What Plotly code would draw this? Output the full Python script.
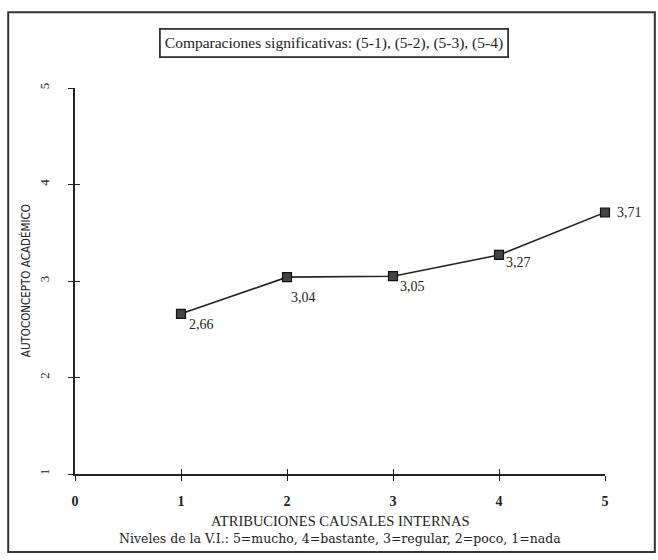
import plotly.graph_objects as go

niveles = [1, 2, 3, 4, 5]
medias = [2.66, 3.04, 3.05, 3.27, 3.71]
etiquetas = ["2,66", "3,04", "3,05", "3,27", "3,71"]
x_ticks = [0, 1, 2, 3, 4, 5]
y_ticks = [1, 2, 3, 4, 5]

# label offsets (style only)
lab_dx = [6, 2, 5, 5, 10]
lab_dy = [-11, -20, -10, -8, 0]

serif = "Liberation Serif, Times New Roman, serif"
narrow = "Liberation Sans Narrow, DejaVu Sans Condensed, Arial Narrow, sans-serif"

fig = go.Figure()
fig.add_trace(go.Scatter(
    x=niveles, y=medias, mode="lines+markers",
    line=dict(color="#222", width=1.6),
    marker=dict(symbol="square", size=9, color="#444",
                line=dict(color="#111", width=1.2)),
    showlegend=False, cliponaxis=False, hoverinfo="skip",
))
# invisible trace on overlay axes to produce crossing ticks
fig.add_trace(go.Scatter(x=niveles, y=medias, xaxis="x2", yaxis="y2",
                         mode="markers", marker=dict(opacity=0),
                         showlegend=False, hoverinfo="skip"))

axis_common = dict(showgrid=False, zeroline=False, showline=True,
                   linecolor="#222", linewidth=1.6, tickcolor="#222",
                   tickwidth=1.4)

fig.update_layout(
    width=658, height=560,
    margin=dict(l=75, r=53, t=88, b=86),
    paper_bgcolor="white", plot_bgcolor="white",
    xaxis=dict(range=[0, 5], tickvals=x_ticks, ticktext=[str(v) for v in x_ticks],
               ticks="outside", ticklen=5, ticklabelstandoff=8,
               tickfont=dict(family=serif, size=14, color="#222", weight="bold"),
               **axis_common),
    yaxis=dict(range=[1, 5], tickvals=y_ticks, ticktext=[str(v) for v in y_ticks],
               ticks="outside", ticklen=5, tickangle=-90, ticklabelstandoff=14,
               tickfont=dict(family=serif, size=13, color="#222"),
               **axis_common),
    xaxis2=dict(range=[0, 5], overlaying="x", tickvals=x_ticks, ticks="inside",
                ticklen=5, showticklabels=False, showgrid=False, zeroline=False,
                showline=False, tickcolor="#222", tickwidth=1.4, anchor="y2"),
    yaxis2=dict(range=[1, 5], overlaying="y", tickvals=y_ticks, ticks="inside",
                ticklen=5, showticklabels=False, showgrid=False, zeroline=False,
                showline=False, tickcolor="#222", tickwidth=1.4, anchor="x2"),
)

for xv, yv, t, dx, dy in zip(niveles, medias, etiquetas, lab_dx, lab_dy):
    fig.add_annotation(x=xv, y=yv, text=t, showarrow=False, xanchor="left",
                       yanchor="middle", xshift=dx, yshift=dy,
                       font=dict(family=serif, size=14, color="#222"))

fig.add_shape(type="rect", xref="paper", yref="paper",
              x0=-0.126, x1=1.094, y0=-0.202, y1=1.196,
              line=dict(color="#333", width=2), layer="below")

fig.add_annotation(xref="paper", yref="paper", x=0.489, y=1.116,
                   xanchor="center", yanchor="middle",
                   text="Comparaciones significativas: (5-1), (5-2), (5-3), (5-4)",
                   showarrow=False, font=dict(family=serif, size=15.5, color="#222"),
                   bordercolor="#333", borderwidth=1.8, borderpad=4, bgcolor="white")
fig.add_annotation(xref="paper", yref="paper", x=0.5, y=-0.122,
                   xanchor="center", yanchor="middle",
                   text="ATRIBUCIONES CAUSALES INTERNAS", showarrow=False,
                   font=dict(family=serif, size=14.5, color="#222"))
fig.add_annotation(xref="paper", yref="paper", x=0.5, y=-0.168,
                   xanchor="center", yanchor="middle",
                   text="Niveles de la V.I.: 5=mucho, 4=bastante, 3=regular, 2=poco, 1=nada",
                   showarrow=False, font=dict(family="DejaVu Serif, serif", size=12.5, color="#222"))
fig.add_annotation(xref="paper", yref="paper", x=-0.094, y=0.5,
                   xanchor="center", yanchor="middle",
                   text="AUTOCONCEPTO ACADÉMICO", textangle=-90, showarrow=False,
                   font=dict(family=narrow, size=11.5, color="#222"))

fig.write_html("out.html", post_script="document.body.style.margin='0';",
               config={"displayModeBar": False})
